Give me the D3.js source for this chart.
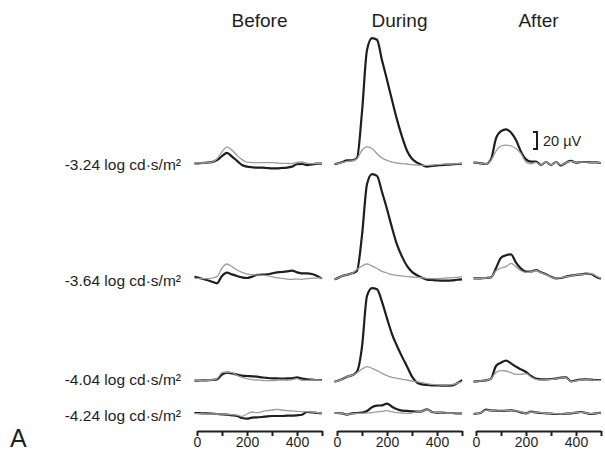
<!DOCTYPE html>
<html>
<head>
<meta charset="utf-8">
<script src="https://cdn.jsdelivr.net/npm/d3@7"></script>
<style>
  html, body { margin: 0; padding: 0; background: #fff; }
  svg { display: block; font-family: "Liberation Sans", Arial, Helvetica, sans-serif; }
</style>
</head>
<body>
<div id="chart"></div>
<script>
// sample times (ms) shared by every trace
const times = [-10, 0, 20, 40, 60, 80, 100, 120, 140, 160, 180, 200, 220, 240, 260, 280, 300, 320, 340, 360, 380, 400, 420, 440, 460, 480, 500];

const conditions = ["Before", "During", "After"];
const intensities = ["-3.24 log cd·s/m²", "-3.64 log cd·s/m²", "-4.04 log cd·s/m²", "-4.24 log cd·s/m²"];
const timeTicks = [0, 100, 200, 300, 400, 500];
const timeLabels = [0, 200, 400];
const scaleBarValue = 20; // µV

// amplitudes in µV, b = black (thick) trace, g = grey (thin) trace
// -3.24 log cd·s/m²
const b324Before = [-0.5, -0.5, 0, 0.5, 1, 3.5, 8, 12, 7.5, 2.5, -2.3, -4.3, -5, -5.5, -5.5, -5.9, -6.3, -6.3, -5.9, -5.5, -4.3, -1.5, -1.2, -2.4, -1.6, -0.8, -0.8];
const g324Before = [0, 0, 0, 0.5, 1, 5, 13, 19, 15, 9, 4, 1, 0.5, 0.5, 0.5, 0.5, 0.5, 0, -0.4, -0.4, -0.8, 0.8, 1.2, -0.4, -0.8, -0.4, -0.8];
const b324During = [-1.2, -0.8, 0.8, 3.1, 3.1, 5.9, 60, 133, 147, 145, 121, 98, 74, 51, 31, 14.5, 5, 0.4, -2.4, -4.3, -3.5, -2.7, -2.4, -2, -1.6, -1.2, -0.8];
const g324During = [-1, -0.8, 0.4, 2, 2.5, 5, 15, 19, 17, 11, 6, 3, 1, 0, -0.8, -1.2, -2, -2.4, -2.7, -2.7, -2.4, -2, -1.6, -1.2, -1.2, -0.8, -0.8];
const b324After = [0.4, 0.4, -0.4, -1.2, 4.3, 29, 37.6, 39.6, 36, 27, 13.3, 4.3, 1.6, 1.6, -2.4, 1.2, -2.4, 1.2, -3, 0.4, 2.4, 0.4, 1.2, 1.2, 0.8, 0.8, 0];
const g324After = [0.4, 0.4, -0.4, -1.2, 3, 14, 20, 21, 20, 17, 11, 1, -1, 0.8, -2.4, 1.2, -2.4, 1.2, -2.4, 0.4, 2, 0.8, 1.2, 1, 0.8, 0.8, 0];

// -3.64 log cd·s/m²
const b364Before = [0.4, -0.4, -2, -3.5, -5.5, -7.4, 1.2, 5.1, 3.1, 1.2, -0.4, -1.2, 0.4, 2.4, 2.7, 3.1, 4.3, 5.5, 5.9, 6.7, 7.4, 5.5, 4.3, 4.3, 3.5, 1.2, -1.6];
const g364Before = [-1.6, -1.6, -2, -2, -1.2, 0.4, 10.6, 15.3, 12.2, 8.2, 5.5, 3.5, 2.7, 2.4, 2, 1.6, 0.4, -0.8, -1.6, -2.4, -2.7, -2.4, -2.7, -2, -1.6, -1.2, -0.8];
const b364During = [-2.7, -1.6, 1.2, 2.7, 4.3, 7.4, 49, 109, 121, 119, 100, 80, 58, 38, 24, 13, 6, 2, -1, -3, -3.5, -4, -4.3, -4.3, -4, -3.2, -2.7];
const g364During = [-2.7, -1.6, 1.2, 2.7, 4.3, 9, 13, 15.3, 13, 10, 6.7, 4.7, 2.7, 2, 1.2, 0.4, 0, -0.4, -0.8, -1.6, -2, -2, -1.6, -1.2, -0.8, -0.4, 0.4];
const b364After = [-1.6, -1.6, -1.6, -1.2, -0.4, 10.2, 22.7, 25.5, 26.7, 16.9, 9.8, 6.3, 6.3, 8.2, 5.5, 3.1, 0.4, -1.6, -1.2, 0.4, 1.6, 2.4, 3.1, 3.9, 3.5, 0.4, -2];
const g364After = [-1.6, -1.6, -1.6, -1.2, -0.4, 7.4, 10.6, 12.2, 16, 12.2, 7.4, 5.5, 5.9, 7.8, 5.1, 2.7, 0, -1.6, -0.8, 0.4, 1.2, 2.4, 3.1, 3.5, 3.9, 1.2, -1.6];

// -4.04 log cd·s/m²
const b404Before = [-0.8, -0.8, -0.4, -0.4, 0, 0.8, 6.3, 8.6, 7.8, 6.3, 5.1, 4.7, 4.3, 3.9, 3.1, 2.4, 2, 2, 1.6, 2, 2, 3.1, 1.6, 0.8, 0.4, 0, 0];
const g404Before = [-0.8, -0.8, -0.4, -0.4, 0, 1.6, 8.6, 9.4, 8.6, 5.5, 3.1, 1.6, 0.4, 0, -0.4, -0.8, -0.8, -0.4, 0, -0.4, 0.4, 1.6, -0.4, -0.4, 0, 0, -0.4];
const b404During = [-1.9, -1.2, 0.8, 3.9, 5.5, 9.8, 39, 98.8, 108, 106.7, 92, 72.5, 54, 40, 27.5, 16, 4, -3, -5.1, -5.9, -6.3, -6.3, -6.7, -6.7, -6.3, -3.9, 0];
const g404During = [-1.9, -1.2, 0.8, 3.9, 5.5, 8.6, 12.9, 15.7, 13.7, 11, 7.8, 5.1, 3.1, 2, 0.8, 0, -1.2, -1.9, -3.1, -4.3, -5.1, -5.5, -5.9, -5.9, -5.5, -3.9, -1.9];
const b404After = [-1.9, -1.6, -1.2, -0.4, 1.6, 16.5, 20.4, 22.7, 19.6, 15.7, 12.5, 9.4, 4.7, 1.6, 0.8, 0.8, 1.2, 1.6, 2.7, 3.1, -1.6, -0.4, 0.4, 0.8, 0.4, 0, 0];
const g404After = [-1.9, -1.6, -1.2, -0.4, 1.6, 9, 11, 10.6, 8.6, 6.7, 6.7, 7.4, 3.5, 0.8, 0, 0.4, 0.8, 1.2, 2.4, 2.7, -1.9, -0.8, 0, 0.4, 0, -0.4, -0.4];

// -4.24 log cd·s/m²
const b424Before = [0, 0, -0.4, -0.4, -0.8, -1.2, -1.6, -2, -2.7, -3.5, -5.9, -6.7, -5.5, -5.1, -4.7, -3.9, -3.5, -3.5, -3.5, -3.1, -3.1, -2.7, -2, 1.2, 0.8, 0, -0.4];
const g424Before = [-0.8, -0.8, -0.8, -1.2, -1.2, -1.2, -1.2, -1.6, -2, -2.4, -3.9, -1.2, 1.2, 0.4, 1.6, 2.7, 3.5, 4.3, 3.5, 2.7, 2.4, 2, 1.6, 1.6, 1.2, 0.4, -0.4];
const b424During = [0, 0, -0.4, -2, -0.4, 0, 0.4, 2.4, 6.7, 8.6, 9, 11, 7.4, 4.3, 2.7, 2.4, 2, 1.6, 2, 4.3, 1.2, 0.4, 0.4, 0, 0, -0.4, -0.4];
const g424During = [0, 0, -0.4, -2, -0.8, -0.4, -0.4, 0, 0.4, 1.2, 2, 2.7, 1.6, 0.4, 0, -0.4, 0, 1.2, 2, 3.9, 1.2, 0.8, 0.4, 0, 0, 0, 0];
const b424After = [-1.2, -0.8, 0.4, 3.9, 3.1, 2.7, 2.4, 2.7, 3.1, 2.4, 0.8, -0.4, 1.6, 0.8, 0, -0.4, -0.8, -1.2, -1.2, -0.8, -0.4, 0.4, 1.2, 0, -1.2, -0.4, 0.4];
const g424After = [-1.2, -0.8, 0.4, 3.5, 3.1, 2.4, 2.4, 2.7, 2.7, 2.4, 1.2, -0.4, 1.2, 0.8, 0.4, -0.4, -0.8, -0.8, -1.2, -0.8, 0, 0.4, 0.8, 0, -0.8, -0.4, 0.4];

// rows x conditions, each [black, grey]
const traces = [
    [[b324Before, g324Before], [b324During, g324During], [b324After, g324After]],
    [[b364Before, g364Before], [b364During, g364During], [b364After, g364After]],
    [[b404Before, g404Before], [b404During, g404During], [b404After, g404After]],
    [[b424Before, g424Before], [b424During, g424During], [b424After, g424After]]
];

// layout
const width = 605, height = 451;
const panelLeft = [197, 337, 476];
const panelWidth = 125;
const rowBase = [163, 277, 380, 413];
const labelDy = [7, 9, 5, 8];
const pxPerMicroV = 0.85;
const axisY = 431;
const ink = "#1e1e1e";

const svg = d3.select("#chart").append("svg")
    .attr("width", width)
    .attr("height", height);

const xScales = panelLeft.map(x0 => d3.scaleLinear().domain([0, 500]).range([x0, x0 + panelWidth]));
const yScales = rowBase.map(b => d3.scaleLinear().domain([0, scaleBarValue]).range([b, b - scaleBarValue * pxPerMicroV]));

// column titles
svg.append("g")
    .selectAll("text")
    .data(conditions)
    .enter().append("text")
    .attr("x", (d, i) => (xScales[i].range()[0] + xScales[i].range()[1]) / 2)
    .attr("y", 27)
    .attr("text-anchor", "middle")
    .attr("font-size", 19)
    .attr("fill", ink)
    .text(d => d);

// row labels
svg.append("g")
    .selectAll("text")
    .data(intensities)
    .enter().append("text")
    .attr("x", 181)
    .attr("y", (d, i) => rowBase[i] + labelDy[i])
    .attr("text-anchor", "end")
    .attr("font-size", 15.5)
    .attr("fill", ink)
    .text(d => d);

// traces
const traceG = svg.append("g").attr("fill", "none").attr("stroke-linejoin", "round");
traces.forEach((row, r) => {
    row.forEach((pair, c) => {
        const line = d3.line()
            .x((d, i) => xScales[c](times[i]))
            .y(d => yScales[r](d))
            .curve(d3.curveMonotoneX);

        traceG.append("path")
            .datum(pair[0])
            .attr("d", line)
            .attr("stroke", ink)
            .attr("stroke-width", 2.2);

        traceG.append("path")
            .datum(pair[1])
            .attr("d", line)
            .attr("stroke", "#9c9c9c")
            .attr("stroke-width", 1.3);
    });
});

// time axes
xScales.forEach(x => {
    const ax = svg.append("g")
        .attr("transform", `translate(0, ${axisY})`)
        .call(d3.axisBottom(x)
            .tickValues(timeTicks)
            .tickSize(5)
            .tickSizeOuter(0)
            .tickPadding(1)
            .tickFormat(d => timeLabels.includes(d) ? d : ""));
    ax.select(".domain").attr("stroke", ink).attr("stroke-width", 2);
    ax.selectAll(".tick line").attr("stroke", ink).attr("stroke-width", 2);
    ax.selectAll(".tick text")
        .attr("fill", ink)
        .attr("font-size", 14)
        .attr("font-family", "Liberation Sans, Arial, sans-serif");
});

// scale bar (20 µV)
const barX = 537, barTop = 132;
const barLen = yScales[0](0) - yScales[0](scaleBarValue);
svg.append("path")
    .attr("d", `M${barX - 4},${barTop} H${barX} V${barTop + barLen} H${barX - 4}`)
    .attr("fill", "none")
    .attr("stroke", ink)
    .attr("stroke-width", 2);
svg.append("text")
    .attr("x", barX + 6)
    .attr("y", barTop + barLen / 2 + 5)
    .attr("font-size", 14.5)
    .attr("fill", ink)
    .text(scaleBarValue + " µV");

// panel letter
svg.append("text")
    .attr("x", 10)
    .attr("y", 447)
    .attr("font-size", 25)
    .attr("fill", ink)
    .text("A");
</script>
</body>
</html>
